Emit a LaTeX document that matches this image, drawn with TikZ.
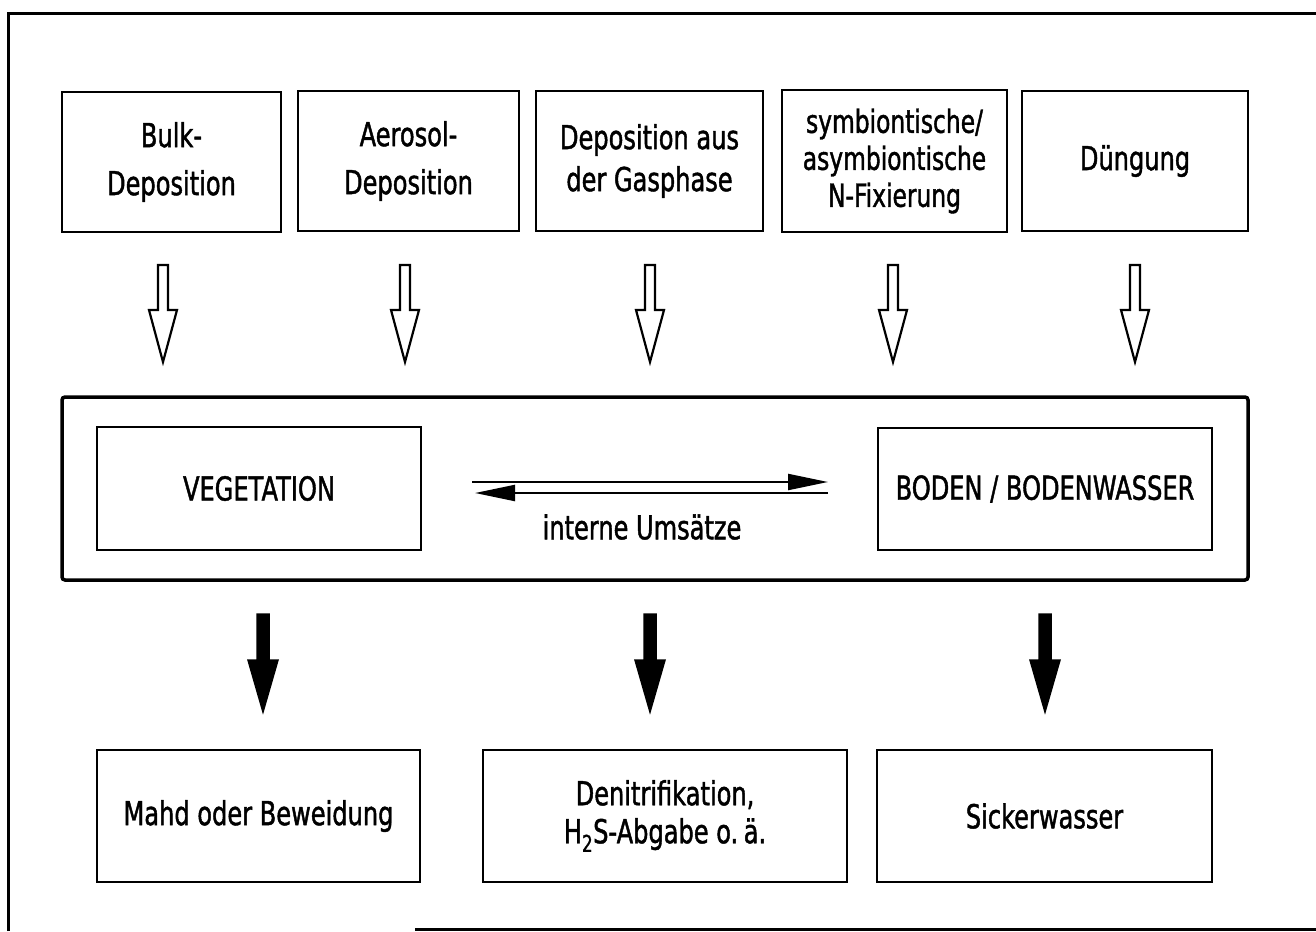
\documentclass[tikz,border=0pt]{standalone}
\usepackage{fontspec}
\setmainfont{DejaVu Sans}[FakeStretch=0.73,FakeBold=1.3]
\usetikzlibrary{arrows.meta}
\begin{document}
\begin{tikzpicture}[x=1pt,y=-1pt,
  every node/.style={font=\fontsize{33}{48}\selectfont, align=center, inner sep=0pt},
  box/.style={draw, line width=2.4pt, minimum height=140pt},
  bigbox/.style={draw, line width=3.5pt, rounded corners=3pt},
  inflow/.style={draw, line width=2.2pt, fill=white, line join=miter},
  outflow/.style={draw, line width=1.5pt, fill=black, line join=miter},
  flux/.style={line width=2.2pt, -{Triangle[length=40pt,width=16pt]}}]
\useasboundingbox (0,0) rectangle (1316,931);

% outer frame
\draw[line width=3pt] (8,931) -- (8,14) -- (1316,14);
\draw[line width=3pt] (415,929) -- (1316,929);

% input fluxes
\node[box, minimum width=219pt] (b1) at (171.5,162) {Bulk-\\Deposition};
\node[box, minimum width=221pt] (b2) at (408.5,161) {Aerosol-\\Deposition};
\node[box, minimum width=227pt, font=\fontsize{33}{42}\selectfont] (b3) at (649.5,161) {Deposition aus\\der Gasphase};
\node[box, minimum width=225pt, minimum height=142pt, font=\fontsize{32}{37}\selectfont] (b4) at (894.5,161) {symbiontische/\\asymbiontische\\N-Fixierung};
\node[box, minimum width=226pt] (b5) at (1135,161) {Düngung};

% hollow arrows into the system
\foreach \x in {163,405,650,893,1135}
  \draw[inflow] (\x-5,265) -- (\x+5,265) -- (\x+5,310) -- (\x+14,310)
    -- (\x,362) -- (\x-14,310) -- (\x-5,310) -- cycle;

% the system with its two compartments
\node[bigbox, minimum width=1186pt, minimum height=183pt] (sys) at (655,488.5) {};
\node[box, minimum width=324pt, minimum height=123pt] (veg) at (259,488.5) {VEGETATION};
\node[box, minimum width=334pt, minimum height=122pt] (bod) at (1045,489) {BODEN / BODENWASSER};

% internal cycling
\coordinate (ua) at (472,482);
\coordinate (ub) at (828,482);
\coordinate (la) at (828,493);
\coordinate (lb) at (475,493);
\draw[flux] (ua) -- (ub);
\draw[flux] (la) -- (lb);
\node (int) at (642,527) {interne Umsätze};

% solid arrows out of the system
\foreach \x in {263,650,1045}
  \draw[outflow] (\x-6,614) -- (\x+6,614) -- (\x+6,660) -- (\x+15,660)
    -- (\x,712) -- (\x-15,660) -- (\x-6,660) -- cycle;

% output fluxes
\node[box, minimum width=323pt, minimum height=132pt] (o1) at (258.5,816) {Mahd oder Beweidung};
\node[box, minimum width=364pt, minimum height=132pt, font=\fontsize{33}{38}\selectfont] (o2) at (665,816) {Denitrifikation,\\H\textsubscript{2}S-Abgabe o.\,ä.};
\node[box, minimum width=335pt, minimum height=132pt] (o3) at (1044.5,816) {Sickerwasser};
\end{tikzpicture}
\end{document}
